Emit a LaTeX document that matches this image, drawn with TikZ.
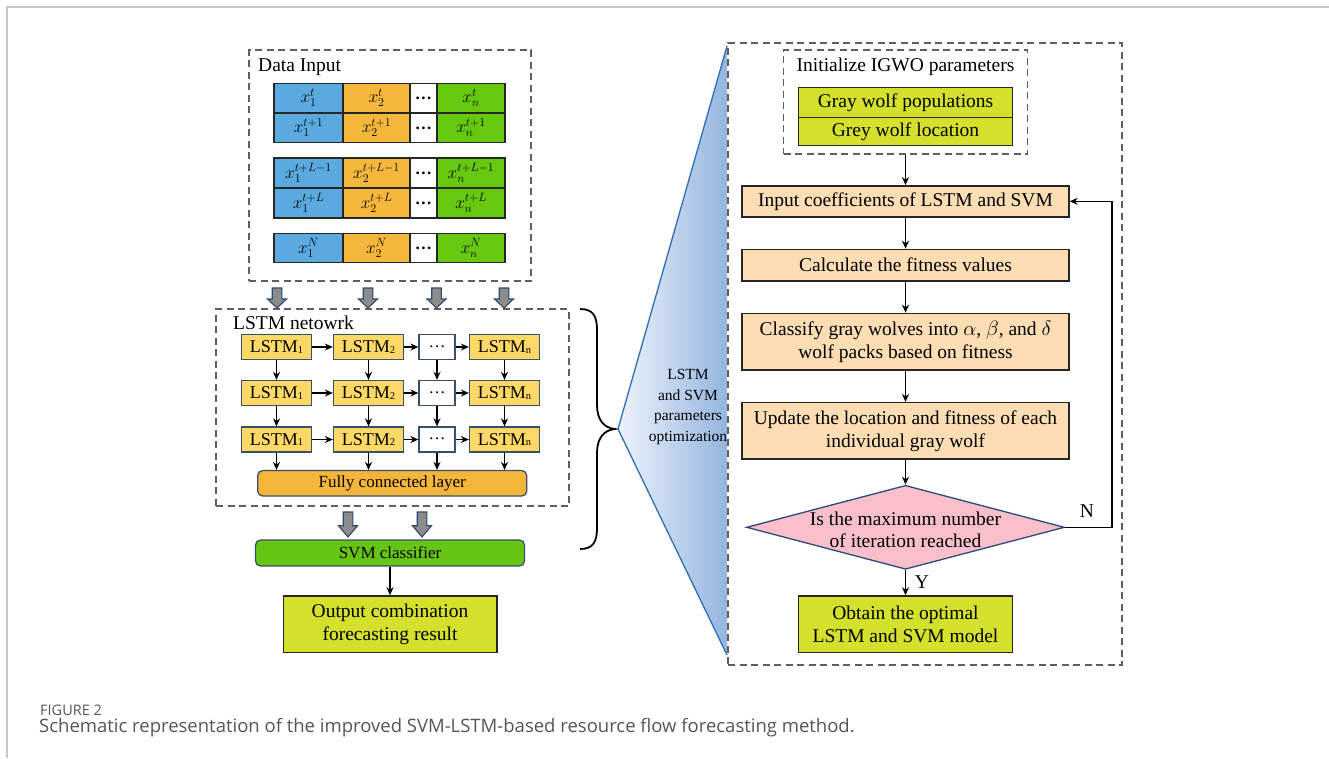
\documentclass[tikz,border=0pt]{standalone}
\usepackage{fontspec}
\setmainfont{Liberation Serif}
\newfontfamily\capfont{Open Sans}
\usetikzlibrary{arrows.meta,shapes.geometric}
\definecolor{cblue}{HTML}{5AAAE0}
\definecolor{corange}{HTML}{F6B83C}
\definecolor{cgreen}{HTML}{66C80F}
\definecolor{lstmfill}{HTML}{FFD966}
\definecolor{lstmedge}{HTML}{3A4E6E}
\definecolor{fcfill}{HTML}{F4B63A}
\definecolor{svmfill}{HTML}{66C512}
\definecolor{ygreen}{HTML}{D4E02C}
\definecolor{peach}{HTML}{FCDDB4}
\definecolor{cpink}{HTML}{F9C0CC}
\definecolor{diaedge}{HTML}{2C4A78}
\definecolor{dashgray}{HTML}{5F5F5F}
\definecolor{trileft}{HTML}{EEF3FB}
\definecolor{triright}{HTML}{94B5E0}
\definecolor{triedge}{HTML}{2F6EB5}
\definecolor{blkfill}{HTML}{8C8C8C}
\definecolor{blkedge}{HTML}{2C4A6E}
\definecolor{framegray}{HTML}{C8C8C8}
\definecolor{capgray}{HTML}{555555}
\newcommand\lsub[1]{\raisebox{-0.5pt}{\fontsize{10.5}{10.5}\selectfont #1}}
\newcommand\blkarrow[3]{% x, ytop, length
  \filldraw[fill=blkfill, draw=blkedge, line width=1.1pt]
    ({#1-4.8},#2) -- ({#1+4.8},#2) -- ({#1+4.8},{#2+0.55*#3}) -- ({#1+9.5},{#2+0.55*#3})
    -- (#1,{#2+#3}) -- ({#1-9.5},{#2+0.55*#3}) -- ({#1-4.8},{#2+0.55*#3}) -- cycle;}
\begin{document}
\begin{tikzpicture}[x=1pt,y=-1pt,
  dbox/.style={draw=dashgray, line width=1.6pt, dash pattern=on 7pt off 4.5pt, inner sep=0pt},
  cell/.style={draw=black!85, line width=1.3pt, inner sep=0pt, font=\fontsize{17}{20}\selectfont},
  lstmbox/.style={draw=lstmedge, fill=lstmfill, line width=1.3pt, minimum height=25pt, inner sep=0pt, font=\fontsize{18}{20}\selectfont},
  dotbox/.style={draw=lstmedge, fill=white, line width=1.3pt, minimum width=36pt, minimum height=25pt, inner sep=0pt, font=\fontsize{17}{20}\selectfont},
  proc/.style={draw=black!85, fill=peach, line width=1.4pt, minimum width=327pt, inner sep=0pt, align=center, font=\fontsize{19.5}{23}\selectfont},
  ybox/.style={draw=black!85, fill=ygreen, line width=1.5pt, inner sep=0pt, align=center, font=\fontsize{19.5}{23}\selectfont},
  lbl/.style={inner sep=0pt, font=\fontsize{19.5}{23}\selectfont},
  arr/.style={-{Stealth[length=8pt,width=7pt]}, line width=1.3pt, black}
]
\useasboundingbox (0,0) rectangle (1329,758);
% outer frame
\draw[framegray, line width=1.3pt] (7,758) -- (7,7) -- (1329,7);

% ---------------- Data input ----------------
\node[dbox, minimum width=282pt, minimum height=231pt] (din) at (390,165.5) {};
\node[lbl, anchor=west] (dinlbl) at (258,67) {Data Input};
\foreach \r/\yy/\hh/\sup in {1/98/29.5/t, 2/127.7/29.5/{t+1}, 3/173/30/{t+L-1}, 4/203/30/{t+L}, 5/248/29.5/N}{
  \foreach \c/\xx/\ww/\col/\sb in {1/308.5/69/cblue/1, 2/376.5/67/corange/2, 4/471/68/cgreen/n}{
    \node[cell, fill=\col, minimum width=\ww pt, minimum height=\hh pt] (d\r\c) at (\xx,\yy) {$x_{\sb}^{\sup}$};
  }
  \node[cell, fill=white, minimum width=27pt, minimum height=\hh pt] (d\r3) at (423.5,\yy) {\raisebox{-4pt}{\textbf{.\kern1.5pt.\kern1.5pt.}}};
}
% block arrows
\blkarrow{277}{288}{20}
\blkarrow{368}{288}{20}
\blkarrow{436.5}{288}{20}
\blkarrow{504}{288}{20}

% ---------------- LSTM network ----------------
\node[dbox, minimum width=353pt, minimum height=197pt] (lnet) at (392.5,407.5) {};
\node[lbl, anchor=west] (lnetlbl) at (233,323) {LSTM netowrk};
\foreach \r/\yy in {1/347, 2/393, 3/439.5}{
  \node[lstmbox, minimum width=70pt] (l\r1) at (276.5,\yy) {LSTM\lsub{1}};
  \node[lstmbox, minimum width=70pt] (l\r2) at (368.5,\yy) {LSTM\lsub{2}};
  \node[dotbox] (l\r3) at (437,\yy) {\raisebox{1pt}{\dots}};
  \node[lstmbox, minimum width=70pt] (l\r4) at (504.5,\yy) {LSTM\lsub{n}};
}
\node[draw=lstmedge, fill=fcfill, line width=1.3pt, rounded corners=5pt, minimum width=269pt, minimum height=25.5pt, inner sep=0pt, font=\fontsize{17}{20}\selectfont] (fc) at (392.2,483.3) {Fully connected layer};
\foreach \r in {1,2,3}{
  \foreach \c/\n in {1/2,2/3,3/4}{
    \draw[arr] (l\r\c.east) -- (l\r\n.west);
  }
}
\foreach \r/\n in {1/2,2/3}{
  \foreach \c in {1,2,3,4}{
    \draw[arr] (l\r\c.south) -- (l\n\c.north);
  }
}
\foreach \c in {1,2,3,4}{
  \draw[arr] (l3\c.south) -- (l3\c.south |- fc.north);
}
\blkarrow{348}{512}{25}
\blkarrow{422}{512}{25}
\node[draw=lstmedge, fill=svmfill, line width=1.3pt, rounded corners=5pt, minimum width=269pt, minimum height=26pt, inner sep=0pt, font=\fontsize{17}{20}\selectfont] (svm) at (390,553) {SVM classifier};
\node[ybox, minimum width=213.5pt, minimum height=56.5pt] (out) at (390,624.2) {Output combination\\forecasting result};
\draw[arr] (svm.south) -- (out.north);

% brace
\draw[line width=1.8pt] (580,309) .. controls (593,309) and (597,316) .. (597,330) -- (597,405)
  .. controls (597,420) and (604,428) .. (615,429)
  .. controls (604,430) and (597,438) .. (597,453) -- (597,528)
  .. controls (597,542) and (593,549) .. (580,549);

% triangle
\shade[left color=trileft, right color=triright] (618,429) -- (727,46) -- (727,655) -- cycle;
\draw[triedge, line width=1.3pt] (727,46) -- (618,429) -- (727,655);
\node[inner sep=0pt, align=center, font=\fontsize{15.5}{20.5}\selectfont] (tri) at (688,407) {LSTM\\and SVM\\parameters\\optimization};

% ---------------- Right flowchart ----------------
\node[dbox, minimum width=394pt, minimum height=622pt] (rbox) at (925,354) {};
\node[dbox, minimum width=244pt, minimum height=104pt] (init) at (905.5,102) {};
\node[lbl] (initlbl) at (905.5,66.7) {Initialize IGWO parameters};
\node[ybox, minimum width=214pt, minimum height=30pt] (pop) at (905.5,102.3) {Gray wolf populations};
\node[ybox, minimum width=214pt, minimum height=28.4pt] (loc) at (905.5,131.5) {Grey wolf location};
\node[proc, minimum height=31pt] (inp) at (905.5,201.3) {Input coefficients of LSTM and SVM};
\node[proc, minimum height=31.7pt] (calc) at (905.5,265.2) {Calculate the fitness values};
\node[proc, minimum height=56.7pt] (cls) at (905.5,341.7) {Classify gray wolves into $\alpha$, $\beta$, and $\delta$\\wolf packs based on fitness};
\node[proc, minimum height=56.3pt] (upd) at (905.5,430.8) {Update the location and fitness of each\\individual gray wolf};
\node[diamond, draw=diaedge, fill=cpink, line width=1.3pt, minimum width=318pt, minimum height=84pt, inner sep=0pt] (dia) at (905.5,527.3) {};
\node[inner sep=0pt, align=center, font=\fontsize{19.5}{22}\selectfont] (diatxt) at (905.5,530) {Is the maximum number\\of iteration reached};
\node[ybox, minimum width=214pt, minimum height=56.7pt] (obt) at (905.5,624.3) {Obtain the optimal\\LSTM and SVM model};
\coordinate (loopx) at (1112,0);
\draw[arr] (init.south) -- (inp.north);
\draw[arr] (inp.south) -- (calc.north);
\draw[arr] (calc.south) -- (cls.north);
\draw[arr] (cls.south) -- (upd.north);
\draw[arr] (upd.south) -- (dia.north);
\draw[arr] (dia.south) -- (obt.north);
\draw[arr] (dia.east) -- (dia.east -| loopx) |- (inp.east);
\node[lbl] (nlbl) at (1087,511) {N};
\node[lbl] (ylbl) at (922,582) {Y};

% caption
\node[anchor=west, inner sep=0pt, text=capgray, font=\capfont\fontsize{14.5}{16}\selectfont] (figlbl) at (40,710) {FIGURE 2};
\node[anchor=west, inner sep=0pt, text=capgray, font=\capfont\fontsize{18.5}{21}\selectfont] (cap) at (39,728) {Schematic representation of the improved SVM-LSTM-based resource flow forecasting method.};
\end{tikzpicture}
\end{document}
